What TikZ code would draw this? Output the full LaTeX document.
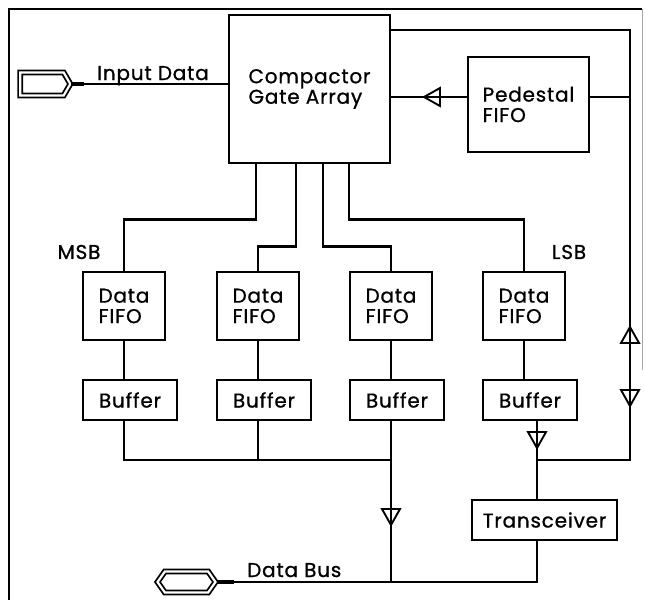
\documentclass[tikz,border=0pt]{standalone}
\usepackage{fontspec}
\setmainfont{Poppins}[FakeBold=0.9,LetterSpace=4]
\usetikzlibrary{shapes.symbols}

\begin{document}
\begin{tikzpicture}[x=1pt,y=-1pt,
    wire/.style={line width=2.4pt},
    blk/.style={draw,line width=2.6pt,align=left,inner sep=0pt,font=\fontsize{20}{20.5}\selectfont},
    lbl/.style={font=\fontsize{20}{20.5}\selectfont,inner sep=0pt},
    port/.style={draw,signal,double,double distance=2.2pt,line width=1.8pt,inner sep=0pt},
    opentri/.pic={\draw[line width=1.9pt] (-8,-9) -- (-8,9) -- (8,0) -- cycle;}]
  \useasboundingbox (0,0) rectangle (645,600);

  % Sheet border, scanned with the right edge fading out.
  \draw[line width=2.2pt] (9,600) -- (9,9) -- (642,9);
  \draw[line width=0.8pt,black!35] (642,9) -- (642,370);

  % Blocks.
  \node[blk,minimum width=161pt,minimum height=148pt] (cga) at (309.5,89) {Compactor\\Gate Array};
  \node[blk,minimum width=121pt,minimum height=95pt] (ped) at (528.5,104.5) {Pedestal\\FIFO};
  \foreach \n/\x in {1/124,2/258,3/391,4/524} {
    \node[blk,minimum width=82pt,minimum height=68pt] (fifo\n) at (\x,306) {Data\\FIFO};
    \node[blk,minimum width=94pt,minimum height=40pt,anchor=west] (buf\n) at (fifo\n.west |- 0,400) {Buffer};
  }
  \node[blk,minimum width=145pt,minimum height=40pt] (trx) at (544.5,520) {Transceiver};

  % Ports and labels.
  \node[port,signal to=east,signal pointer angle=120,minimum width=50pt,minimum height=23pt] (din) at (42,84) {};
  \node[port,signal to=east and west,signal pointer angle=110,minimum width=58pt,minimum height=21pt] (dbus) at (186.5,582) {};
  \node[lbl] (msb) at (79,252) {MSB};
  \node[lbl] (lsb) at (569,252) {LSB};
  \node[lbl,anchor=base west] (indata) at (97,80) {Input Data};
  \node[lbl,anchor=base west] (buslbl) at (247,577) {Data Bus};

  \coordinate (rt) at (630,30);
  \coordinate (rb) at (630,460);
  \coordinate (tap) at (537,460);
  \coordinate (pl) at (0,97);

  % Input side and the pedestal loop.
  \draw[line width=3.8pt] (din.east) -- ++(13,0);
  \draw[wire] (din.east) -- (din.east -| cga.west);
  \draw[wire] (cga.east |- rt) -- (rt) -- (rb) -- (tap);
  \draw[wire] (ped.west |- pl) -- (cga.east |- pl);
  \draw[wire] (ped.east |- pl) -- (rt |- pl);

  % Gate array to the four data FIFOs.
  \draw[wire] ([xshift=28pt]cga.south west) -- ++(0,55) -| (fifo1.north);
  \draw[wire] ([xshift=68pt]cga.south west) -- ++(0,82) -| (fifo2.north);
  \draw[wire] ([xshift=95pt]cga.south west) -- ++(0,82) -| (fifo3.north);
  \draw[wire] ([xshift=121pt]cga.south west) -- ++(0,55) -| (fifo4.north);
  \foreach \n in {1,...,4}
    \draw[wire] (fifo\n.south) -- (fifo\n.south |- buf\n.north);

  % Buffers onto the data bus.
  \draw[wire] (fifo1.south |- buf1.south) -- (fifo1 |- tap) -- (fifo3 |- tap);
  \draw[wire] (fifo2.south |- buf2.south) -- (fifo2 |- tap);
  \draw[wire] (fifo3.south |- buf3.south) -- (fifo3 |- dbus);
  \draw[wire] (tap |- buf4.south) -- (tap |- trx.north);
  \draw[wire] (tap |- trx.south) -- (tap |- dbus) -- (dbus.east);
  \draw[line width=3.8pt] (dbus.east) -- ++(17,0);

  % Direction marks.
  \pic[rotate=180] at (432,97) {opentri};
  \pic[rotate=90] at (630,335) {opentri};
  \pic[rotate=-90] at (630,398) {opentri};
  \pic[rotate=-90] at (537,440) {opentri};
  \pic[rotate=-90] at (391,517) {opentri};
\end{tikzpicture}
\end{document}
